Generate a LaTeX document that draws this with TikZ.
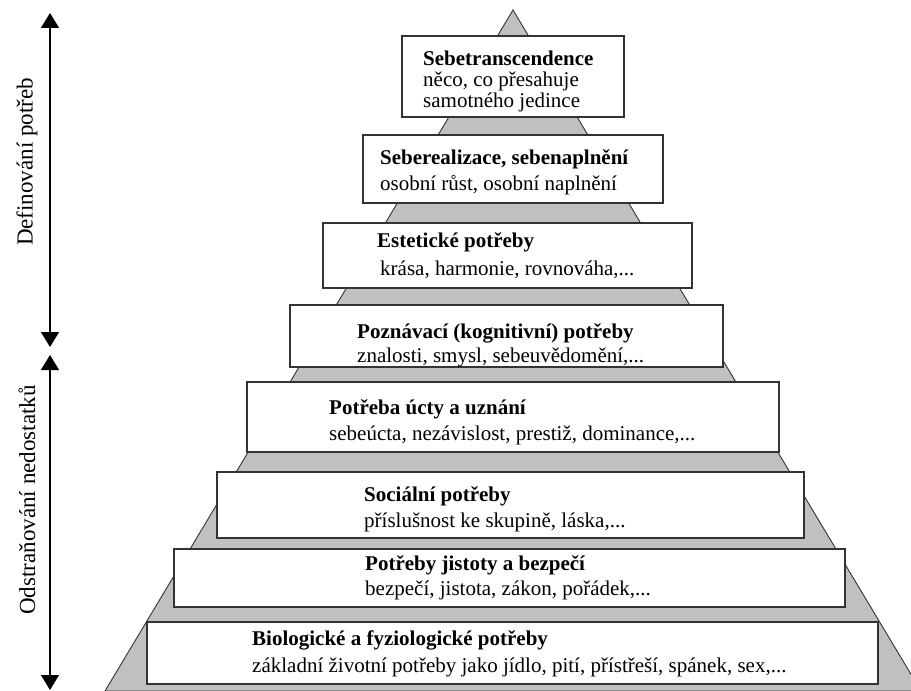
\documentclass[tikz,border=0pt]{standalone}
\usepackage{fontspec}
\setmainfont{Liberation Serif}
\usetikzlibrary{arrows.meta}
\definecolor{pyrgray}{HTML}{C0C0C0}
\definecolor{edge}{HTML}{333333}
\begin{document}
\begin{tikzpicture}[x=1bp,y=-1bp,
  boxst/.style={draw=edge, line width=1.4bp, fill=white, inner sep=0pt, outer sep=0pt, anchor=north west},
  ttl/.style={anchor=base west, inner sep=0pt, font=\fontsize{21bp}{25bp}\selectfont\bfseries},
  sub/.style={anchor=base west, inner sep=0pt, font=\fontsize{21bp}{25bp}\selectfont},
  side/.style={inner sep=0pt, rotate=90, font=\fontsize{23bp}{27bp}\selectfont},
  dblarr/.style={line width=1.3bp, {Triangle[width=18bp,length=15bp]}-{Triangle[width=18bp,length=15bp]}}]
\useasboundingbox (0,0) rectangle (911,691);
\clip (0,0) rectangle (911,691);
% pyramid
\coordinate (apex) at (513,10);
\coordinate (bl) at (105,691);
\coordinate (br) at (921,691);
\filldraw[fill=pyrgray, draw=edge, line width=0.9bp] (apex) -- (bl) -- (br) -- cycle;
% boxes
\node[boxst, minimum width=222bp, minimum height=81bp] (b1) at (402,36) {};
\node[boxst, minimum width=300bp, minimum height=68bp] (b2) at (363,135) {};
\node[boxst, minimum width=369bp, minimum height=65bp] (b3) at (323,223) {};
\node[boxst, minimum width=433bp, minimum height=62bp] (b4) at (290,305) {};
\node[boxst, minimum width=532bp, minimum height=70bp] (b5) at (247,382) {};
\node[boxst, minimum width=587bp, minimum height=66bp] (b6) at (217,472) {};
\node[boxst, minimum width=671bp, minimum height=58bp] (b7) at (174,549) {};
\node[boxst, minimum width=731bp, minimum height=62bp] (b8) at (147,622) {};
% texts
\node[ttl] (t1) at (423,66) {Sebetranscendence};
\node[sub] (s1a) at (423,87) {něco, co přesahuje};
\node[sub] (s1b) at (423,108) {samotného jedince};
\node[ttl] (t2) at (380,165) {Seberealizace, sebenaplnění};
\node[sub] (s2) at (380,190) {osobní růst, osobní naplnění};
\node[ttl] (t3) at (377,247) {Estetické potřeby};
\node[sub] (s3) at (380,275) {krása, harmonie, rovnováha,...};
\node[ttl] (t4) at (357,338) {Poznávací (kognitivní) potřeby};
\node[sub] (s4) at (357,362) {znalosti, smysl, sebeuvědomění,...};
\node[ttl] (t5) at (329,414) {Potřeba úcty a uznání};
\node[sub] (s5) at (329,440) {sebeúcta, nezávislost, prestiž, dominance,...};
\node[ttl] (t6) at (364,501) {Sociální potřeby};
\node[sub] (s6) at (364,527) {příslušnost ke skupině, láska,...};
\node[ttl] (t7) at (365,570) {Potřeby jistoty a bezpečí};
\node[sub] (s7) at (365,595) {bezpečí, jistota, zákon, pořádek,...};
\node[ttl] (t8) at (252,645) {Biologické a fyziologické potřeby};
\node[sub] (s8) at (252,672) {základní životní potřeby jako jídlo, pití, přístřeší, spánek, sex,...};
% side arrows
\coordinate (a1top) at (50,13);
\coordinate (a1bot) at (50,347);
\coordinate (a2top) at (50,355);
\coordinate (a2bot) at (50,690);
\draw[dblarr] (a1top) -- (a1bot);
\draw[dblarr] (a2top) -- (a2bot);
\node[side] (l1) at (27,162) {Definování potřeb};
\node[side] (l2) at (27,500) {Odstraňování nedostatků};
\end{tikzpicture}
\end{document}
